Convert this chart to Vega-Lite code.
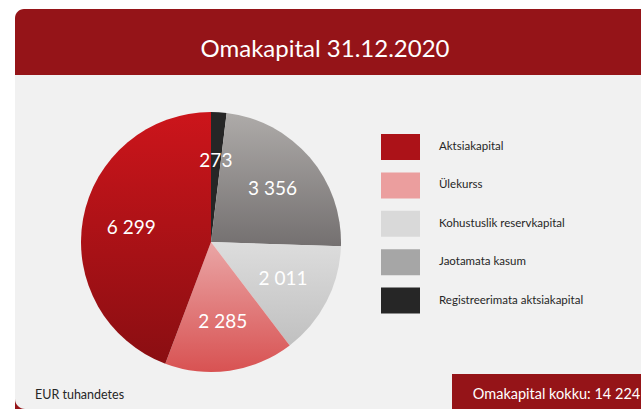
{
  "$schema": "https://vega.github.io/schema/vega-lite/v6.json",
  "background": "white",
  "padding": {"left": 15, "top": 9, "right": 0, "bottom": 0},
  "spacing": 0,
  "bounds": "flush",
  "config": {
    "font": "Lato",
    "view": {"stroke": null, "fill": "#f1f1f1"},
    "concat": {"spacing": 0},
    "locale": {"number": {"decimal": ",", "thousands": " ", "grouping": [3], "currency": ["", " €"]}}
  },
  "datasets": {
    "parts": [
      {"osa": "Registreerimata aktsiakapital", "summa": 273},
      {"osa": "Jaotamata kasum", "summa": 3356},
      {"osa": "Kohustuslik reservkapital", "summa": 2011},
      {"osa": "Ülekurss", "summa": 2285},
      {"osa": "Aktsiakapital", "summa": 6299}
    ]
  },
  "resolve": {"scale": {"color": "independent"}, "legend": {"color": "independent"}},
  "vconcat": [
    {
      "width": 626,
      "height": 66,
      "view": {"fill": "white", "stroke": null},
      "data": {"values": [{"t": "Omakapital 31.12.2020"}]},
      "layer": [
        {"mark": {"type": "rect", "color": "#951418", "cornerRadiusTopLeft": 9}, "encoding": {}},
        {"mark": {"type": "text", "color": "white", "fontSize": 24, "baseline": "middle", "dy": 8, "dx": -3}, "encoding": {"text": {"field": "t"}}}
      ]
    },
    {
      "spacing": 0,
      "bounds": "flush",
      "resolve": {"scale": {"color": "independent"}, "legend": {"color": "independent"}},
      "hconcat": [
        {
          "width": 26,
          "height": 334,
          "view": {"fill": "#951418", "stroke": null},
          "data": {"values": [{"k": 1}]},
          "mark": {"type": "rect", "color": "#f1f1f1", "cornerRadiusBottomLeft": 10, "xOffset": 1.6},
          "encoding": {}
        },
        {
          "width": 340,
          "height": 334,
          "view": {"fill": "#f1f1f1", "stroke": null},
          "data": {"name": "parts"},
          "title": {"text": "EUR tuhandetes", "orient": "bottom", "anchor": "start", "frame": "group", "offset": -20, "dx": -6, "fontSize": 12.5, "fontWeight": "normal", "color": "#262626", "font": "Lato"},
          "transform": [{"window": [{"op": "row_number", "as": "n"}]}],
          "layer": [
            {
              "mark": {"type": "arc", "outerRadius": 130},
              "encoding": {
                "theta": {"field": "summa", "type": "quantitative", "stack": true},
                "order": {"field": "n", "type": "quantitative"},
                "color": {
                  "condition": [
                    {"test": "datum.osa === 'Aktsiakapital'", "value": {"gradient": "linear", "x1": 0, "y1": 0, "x2": 0, "y2": 1, "stops": [{"offset": 0, "color": "#cc151b"}, {"offset": 1, "color": "#8a0e12"}]}},
                    {"test": "datum.osa === 'Ülekurss'", "value": {"gradient": "linear", "x1": 0, "y1": 0, "x2": 0, "y2": 1, "stops": [{"offset": 0, "color": "#eaa6a6"}, {"offset": 1, "color": "#d85252"}]}},
                    {"test": "datum.osa === 'Kohustuslik reservkapital'", "value": {"gradient": "linear", "x1": 0, "y1": 0, "x2": 0, "y2": 1, "stops": [{"offset": 0, "color": "#dddddd"}, {"offset": 1, "color": "#c0c0c0"}]}},
                    {"test": "datum.osa === 'Jaotamata kasum'", "value": {"gradient": "linear", "x1": 0, "y1": 0, "x2": 0, "y2": 1, "stops": [{"offset": 0, "color": "#aeaba9"}, {"offset": 1, "color": "#747070"}]}}
                  ],
                  "value": "#262626"
                }
              }
            },
            {
              "mark": {"type": "text", "radius": 81, "fontSize": 19, "color": "white"},
              "encoding": {
                "theta": {"field": "summa", "type": "quantitative", "stack": true},
                "order": {"field": "n", "type": "quantitative"},
                "text": {"field": "summa", "type": "quantitative", "format": ",d"}
              }
            }
          ]
        },
        {
          "spacing": 0,
          "bounds": "flush",
          "vconcat": [
            {
              "width": 260,
              "height": 299,
              "view": {"fill": "#f1f1f1", "stroke": null},
              "data": {"name": "parts"},
              "mark": {"type": "text"},
              "encoding": {
                "text": {"value": ""},
                "color": {
                  "field": "osa", "type": "nominal",
                  "scale": {
                    "domain": ["Aktsiakapital", "Ülekurss", "Kohustuslik reservkapital", "Jaotamata kasum", "Registreerimata aktsiakapital"],
                    "range": ["#ac1218", "#eb9e9e", "#d9d9d9", "#a6a6a6", "#262626"]
                  },
                  "legend": {
                    "orient": "none", "legendX": 6.5, "legendY": 59, "title": null,
                    "symbolType": "M-1.5,-1H1.5V1H-1.5Z", "symbolSize": 676,
                    "symbolStrokeWidth": 0, "symbolOpacity": 1,
                    "labelFontSize": 11.5, "labelColor": "#262626", "labelFont": "Lato",
                    "labelOffset": 25.5, "rowPadding": 12.4, "padding": 0, "labelLimit": 300
                  }
                }
              }
            },
            {
              "spacing": 0,
              "bounds": "flush",
              "hconcat": [
                {
                  "width": 71,
                  "height": 35,
                  "view": {"fill": "#f1f1f1", "stroke": null},
                  "data": {"values": [{"k": 1}]},
                  "mark": {"type": "text"},
                  "encoding": {"text": {"value": ""}}
                },
                {
                  "width": 189,
                  "height": 35,
                  "view": {"fill": "#951418", "stroke": null},
                  "data": {"values": [{"t": "Omakapital kokku: 14 224"}]},
                  "mark": {"type": "text", "color": "white", "fontSize": 14.5, "dx": 10, "dy": 3},
                  "encoding": {"text": {"field": "t"}}
                }
              ]
            }
          ]
        }
      ]
    }
  ]
}
